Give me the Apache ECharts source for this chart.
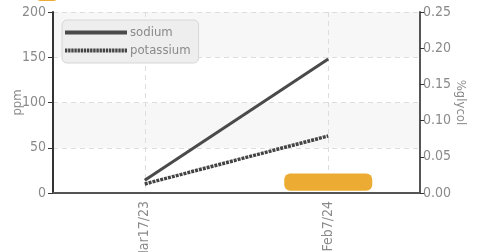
<!DOCTYPE html>
<html>
<head>
<meta charset="utf-8">
<script src="https://cdn.jsdelivr.net/npm/echarts@6/dist/echarts.min.js"></script>
<style>
  html, body { margin: 0; padding: 0; background: #fff; }
  #chart { width: 491px; height: 252px; }
</style>
</head>
<body>
<div id="chart"></div>
<script>
const categories = ['Mar17/23', 'Feb7/24'];
const sodium = [14, 148];
const potassium = [10, 63];
// glycol bar floats a little above the axis
const glycolBase = ['-', 0.003];
const glycol = ['-', 0.024];
const ppmTicks = { min: 0, max: 200, interval: 50 };
const glycolTicks = { min: 0, max: 0.25, interval: 0.05 };

const font = "'Liberation Sans Narrow', 'DejaVu Sans Condensed', 'Roboto', sans-serif";
const labelColor = '#8a8a8a';

// legend icons: a solid bar and a dotted bar
let dots = '';
for (let i = 0; i < 20; i++) {
  dots += `M${i * 4},0h3v4h-3z `;
}
const solidIcon = 'path://M0,0h79v4h-79z';
const dottedIcon = `path://${dots}`;

const chart = echarts.init(document.getElementById('chart'));
chart.setOption({
  animation: false,
  textStyle: { fontFamily: font },
  grid: { left: 53, right: 71, top: 12, bottom: 59, outerBoundsMode: 'none', containLabel: false },
  legend: [{
    data: [
      { name: 'sodium', icon: solidIcon },
      { name: 'potassium', icon: dottedIcon }
    ],
    orient: 'vertical',
    left: 62,
    top: 20,
    padding: [6, 8, 6, 3],
    itemGap: 5,
    itemWidth: 62,
    itemHeight: 4,
    symbolKeepAspect: false,
    backgroundColor: '#eeeeee',
    borderColor: '#d6d6d6',
    borderWidth: 1,
    borderRadius: 5,
    textStyle: { color: labelColor, fontSize: 13, fontFamily: font, padding: [0, 0, 0, -2] }
  }, {
    data: ['glycol'],
    left: 32,
    top: -18,
    itemWidth: 20,
    itemHeight: 14,
    textStyle: { color: labelColor, fontSize: 13, fontFamily: font }
  }],
  xAxis: {
    type: 'category',
    data: categories,
    boundaryGap: true,
    axisLine: { lineStyle: { color: '#555', width: 2 } },
    axisTick: { alignWithLabel: true, length: 5, lineStyle: { color: '#333' } },
    axisLabel: { rotate: 90, color: labelColor, fontSize: 14, margin: 8 },
    splitLine: { show: true, alignWithLabel: true, lineStyle: { color: '#ddd', type: [5, 4] } }
  },
  yAxis: [{
    type: 'value',
    name: 'ppm',
    nameLocation: 'middle',
    nameGap: 29,
    nameMoveOverlap: false,
    nameRotate: 90,
    nameTextStyle: { color: labelColor, fontSize: 13 },
    min: ppmTicks.min,
    max: ppmTicks.max,
    interval: ppmTicks.interval,
    axisLine: { show: true, lineStyle: { color: '#333', width: 2 } },
    axisTick: { show: true, length: 5, lineStyle: { color: '#333' } },
    axisLabel: { color: labelColor, fontSize: 14, margin: 7 },
    splitLine: { lineStyle: { color: '#ddd', type: [5, 4] } },
    splitArea: { show: true, areaStyle: { color: ['#ffffff', '#f7f7f7'] } }
  }, {
    type: 'value',
    name: '%glycol',
    nameLocation: 'middle',
    nameGap: 34,
    nameMoveOverlap: false,
    nameRotate: -90,
    nameTextStyle: { color: labelColor, fontSize: 13 },
    position: 'right',
    min: glycolTicks.min,
    max: glycolTicks.max,
    interval: glycolTicks.interval,
    axisLine: { show: true, lineStyle: { color: '#555', width: 2 } },
    axisTick: { show: true, length: 4, lineStyle: { color: '#333' } },
    axisLabel: { color: labelColor, fontSize: 14, margin: 3, formatter: (v) => v.toFixed(2) },
    splitLine: { show: false }
  }],
  series: [{
    name: 'glycolBase',
    type: 'bar',
    yAxisIndex: 1,
    stack: 'g',
    barWidth: 88,
    itemStyle: { color: 'transparent' },
    data: glycolBase
  }, {
    name: 'glycol',
    type: 'bar',
    yAxisIndex: 1,
    stack: 'g',
    barWidth: 88,
    itemStyle: { color: '#ecac33', borderRadius: 6 },
    data: glycol
  }, {
    name: 'sodium',
    type: 'line',
    symbol: 'none',
    lineStyle: { color: '#4a4a4a', width: 3 },
    itemStyle: { color: '#4a4a4a' },
    data: sodium
  }, {
    name: 'potassium',
    type: 'line',
    symbol: 'none',
    lineStyle: { color: '#444', width: 3.5, type: [3, 1] },
    itemStyle: { color: '#444' },
    data: potassium
  }]
});
</script>
</body>
</html>
